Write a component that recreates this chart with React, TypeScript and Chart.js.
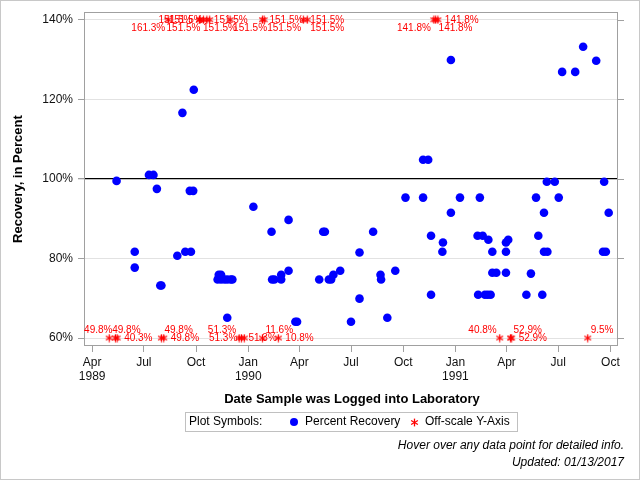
import React, { useEffect, useRef } from "react";
import { Chart, registerables } from "chart.js";

Chart.register(...registerables);

// Percent recovery of each logged sample (date logged, recovery %)
const recoveryDates = [
  "1989-05-14", "1989-06-15", "1989-06-15", "1989-07-10", "1989-07-18", "1989-07-24",
  "1989-07-30", "1989-08-01", "1989-08-29", "1989-09-07", "1989-09-12", "1989-09-22",
  "1989-09-20", "1989-09-26", "1989-09-27", "1989-11-10", "1989-11-14", "1989-11-08",
  "1989-11-14", "1989-11-20", "1989-11-25", "1989-12-01", "1989-12-04", "1989-11-25",
  "1990-01-10", "1990-02-11", "1990-02-12", "1990-02-16", "1990-02-28", "1990-02-28",
  "1990-03-13", "1990-03-13", "1990-03-25", "1990-03-28", "1990-05-06", "1990-05-13",
  "1990-05-16", "1990-05-23", "1990-05-27", "1990-05-31", "1990-06-12", "1990-07-01",
  "1990-07-16", "1990-07-16", "1990-08-09", "1990-08-22", "1990-08-23", "1990-09-03",
  "1990-09-17", "1990-10-05", "1990-11-05", "1990-11-05", "1990-11-14", "1990-11-19",
  "1990-11-19", "1990-12-10", "1990-12-09", "1990-12-24", "1990-12-24", "1991-01-09",
  "1991-02-09", "1991-02-18", "1991-02-13", "1991-02-28", "1991-03-07", "1991-02-10",
  "1991-02-22", "1991-02-27", "1991-03-04", "1991-03-07", "1991-03-14", "1991-03-31",
  "1991-03-31", "1991-04-04", "1991-03-31", "1991-05-06", "1991-05-14", "1991-05-23",
  "1991-05-27", "1991-06-03", "1991-06-06", "1991-06-06", "1991-06-12", "1991-06-11",
  "1991-06-25", "1991-07-02", "1991-07-08", "1991-07-31", "1991-08-14", "1991-09-06",
  "1991-09-20", "1991-09-18", "1991-09-23", "1991-09-28",
];
const recoveryValues = [
  99.5, 81.7, 77.7, 101.0, 101.0, 97.5,
  73.2, 73.2, 80.7, 116.6, 81.7, 81.7,
  97.0, 97.0, 122.4, 75.9, 75.9, 74.7,
  74.7, 74.7, 74.7, 74.7, 74.7, 65.1,
  93.0, 86.7, 74.7, 74.7, 75.9, 74.7,
  89.7, 76.9, 64.1, 64.1, 74.7, 86.7,
  86.7, 74.7, 74.7, 75.9, 76.9, 64.1,
  81.5, 69.9, 86.7, 75.9, 74.7, 65.1,
  76.9, 95.3, 95.3, 104.8, 104.8, 85.7,
  70.9, 84.0, 81.7, 129.9, 91.5, 95.3,
  85.7, 85.7, 95.3, 84.7, 81.7, 70.9,
  70.9, 70.9, 70.9, 76.4, 76.4, 76.4,
  84.0, 84.7, 81.7, 70.9, 76.2, 95.3,
  85.7, 70.9, 91.5, 81.7, 81.7, 99.3,
  99.3, 95.3, 126.9, 126.9, 133.2, 129.7,
  99.3, 81.7, 81.7, 91.5,
];

// Samples whose recovery falls outside the 60%..140% window (in record order)
const offscaleDates = [
  "1989-05-15", "1989-05-01", "1989-05-12",
  "1989-08-05", "1989-08-01",
  "1990-02-23", "1990-01-26", "1989-12-20", "1989-12-16", "1989-12-25",
  "1991-04-10", "1991-04-08", "1991-03-20",
  "1991-08-22",
  "1989-10-20", "1990-04-08", "1990-01-26", "1990-01-29", "1990-04-15",
  "1989-10-08", "1989-10-14", "1989-10-07", "1989-08-13",
  "1989-11-30", "1989-10-25",
  "1990-12-01", "1990-11-27", "1990-11-24",
];
const offscaleValues = [
  40.3, 49.8, 49.8,
  49.8, 49.8,
  10.8, 11.6, 51.3, 51.3, 51.3,
  52.9, 52.9, 40.8,
  9.5,
  151.5, 151.5, 151.5, 151.5, 151.5,
  151.5, 151.5, 151.5, 161.3,
  151.5, 151.5,
  141.8, 141.8, 141.8,
];

const yTickValues = [60, 80, 100, 120, 140];
const xTickDates = [
  "1989-04-01", "1989-07-01", "1989-10-01", "1990-01-01", "1990-04-01", "1990-07-01",
  "1990-10-01", "1991-01-01", "1991-04-01", "1991-07-01", "1991-10-01",
];
const xTickLabels: (string | string[])[] = [
  ["Apr", "1989"], "Jul", "Oct", ["Jan", "1990"], "Apr", "Jul",
  "Oct", ["Jan", "1991"], "Apr", "Jul", "Oct",
];

const SCALE_LOW = 60;
const SCALE_HIGH = 140;
const REFERENCE = 100;

const FONT = '"Liberation Sans", Arial, Helvetica, sans-serif';
const BASE_DAY = Date.UTC(1989, 3, 1) / 86400000;

function dayOf(iso: string): number {
  const [y, m, d] = iso.split("-").map(Number);
  return Date.UTC(y, m - 1, d) / 86400000 - BASE_DAY;
}

function clampToScale(v: number): number {
  return Math.min(SCALE_HIGH, Math.max(SCALE_LOW, v));
}

function makeAsterisk(size: number, color: string): HTMLCanvasElement {
  const c = document.createElement("canvas");
  c.width = size;
  c.height = size;
  const g = c.getContext("2d")!;
  g.strokeStyle = color;
  g.lineWidth = 1.3;
  const cx = size / 2;
  const cy = size / 2;
  const r = size / 2 - 0.6;
  for (let k = 0; k < 3; k++) {
    const a = Math.PI / 2 + (k * Math.PI) / 3;
    g.beginPath();
    g.moveTo(cx + r * Math.cos(a), cy + r * Math.sin(a));
    g.lineTo(cx - r * Math.cos(a), cy - r * Math.sin(a));
    g.stroke();
  }
  return c;
}

type Box = { x0: number; x1: number; y0: number; y1: number };

function overlapArea(a: Box, b: Box): number {
  const w = Math.min(a.x1, b.x1) - Math.max(a.x0, b.x0);
  const h = Math.min(a.y1, b.y1) - Math.max(a.y0, b.y0);
  return w > 0 && h > 0 ? w * h : 0;
}

// Value labels for the off-scale markers: each label tries the spots around
// its marker in turn (right, diagonal toward the plot, opposite diagonal, left)
// and takes the first one that is free of earlier labels and inside the plot;
// when none is free it takes the least crowded one.
const offscaleLabelPlugin = {
  id: "offscaleLabels",
  afterDatasetsDraw(chart: any) {
    const meta = chart.getDatasetMeta(1);
    const ctx = chart.ctx as CanvasRenderingContext2D;
    const area = chart.chartArea;
    ctx.save();
    ctx.font = `10px ${FONT}`;
    ctx.fillStyle = "#ff0000";
    ctx.textBaseline = "middle";
    ctx.textAlign = "left";
    const pts = meta.data as any[];
    const placed: Box[] = [];
    pts.forEach((p, i) => {
      const text = offscaleValues[i].toFixed(1) + "%";
      const w = ctx.measureText(text).width;
      const dv = offscaleValues[i] > SCALE_HIGH ? 8 : -8;
      const cands = [
        [p.x + 7, p.y],
        [p.x + 3, p.y + dv],
        [p.x - 3 - w, p.y + dv],
        [p.x - 7 - w, p.y],
      ];
      let best = cands[0];
      let bestCost = Infinity;
      for (const c of cands) {
        const b: Box = { x0: c[0], x1: c[0] + w, y0: c[1] - 3.5, y1: c[1] + 3.5 };
        let cost = 0;
        for (const q of placed) cost += overlapArea(b, q);
        if (b.x0 < area.left - 1 || b.x1 > area.right - 1) cost += 1000;
        if (cost < bestCost - 0.01) {
          bestCost = cost;
          best = c;
        }
        if (cost === 0) break;
      }
      placed.push({ x0: best[0], x1: best[0] + w, y0: best[1] - 3.5, y1: best[1] + 3.5 });
      ctx.fillText(text, best[0], best[1]);
    });
    ctx.restore();
  },
};

// Plot frame, mirrored right-hand ticks, titles, legend panel and footnotes
const decorationPlugin = {
  id: "decorations",
  beforeDatasetsDraw(chart: any) {
    const ctx = chart.ctx as CanvasRenderingContext2D;
    const { left, right, top, bottom } = chart.chartArea;
    const yScale = chart.scales.y;
    ctx.save();
    ctx.strokeStyle = "#a0a0a0";
    ctx.lineWidth = 1;
    ctx.strokeRect(Math.round(left) + 0.5, Math.round(top) + 0.5, Math.round(right - left) - 1, Math.round(bottom - top) - 1);
    for (const v of yTickValues) {
      const y = Math.round(yScale.getPixelForValue(v)) + 0.5;
      ctx.beginPath();
      ctx.moveTo(right, y);
      ctx.lineTo(right + 6, y);
      ctx.stroke();
    }
    ctx.restore();
  },
  afterDraw(chart: any) {
    const ctx = chart.ctx as CanvasRenderingContext2D;
    const { top, bottom } = chart.chartArea;
    ctx.save();
    // outer border
    ctx.strokeStyle = "#c8c8c8";
    ctx.lineWidth = 1;
    ctx.strokeRect(0.5, 0.5, chart.width - 1, chart.height - 1);

    ctx.fillStyle = "#000";
    ctx.textBaseline = "middle";
    // y axis title
    ctx.font = `bold 13px ${FONT}`;
    ctx.save();
    ctx.translate(18, (top + bottom) / 2);
    ctx.rotate(-Math.PI / 2);
    ctx.textAlign = "center";
    ctx.fillText("Recovery, in Percent", 0, 0);
    ctx.restore();
    // x axis title
    ctx.textAlign = "center";
    ctx.fillText("Date Sample was Logged into Laboratory", 352, 399);

    // legend panel
    ctx.strokeStyle = "#c0c0c0";
    ctx.strokeRect(185.5, 412.5, 332, 19);
    ctx.font = `12px ${FONT}`;
    ctx.textAlign = "left";
    ctx.fillStyle = "#000";
    ctx.fillText("Plot Symbols:", 189, 422);
    ctx.fillStyle = "#0000ff";
    ctx.beginPath();
    ctx.arc(294, 422, 4, 0, Math.PI * 2);
    ctx.fill();
    ctx.fillStyle = "#000";
    ctx.fillText("Percent Recovery", 305, 422);
    ctx.drawImage(makeAsterisk(9, "#ff0000"), 410, 418);
    ctx.fillText("Off-scale Y-Axis", 425, 422);

    // footnotes
    ctx.font = `italic 12px ${FONT}`;
    ctx.textAlign = "right";
    ctx.fillText("Hover over any data point for detailed info.", 624, 446);
    ctx.fillText("Updated: 01/13/2017", 624, 463);
    ctx.restore();
  },
};

export default function App() {
  const canvasRef = useRef<HTMLCanvasElement | null>(null);

  useEffect(() => {
    const canvas = canvasRef.current;
    if (!canvas) return;
    const asterisk = makeAsterisk(9, "#ff0000");
    const xTickValues = xTickDates.map(dayOf);

    const chart = new Chart(canvas, {
      type: "scatter",
      data: {
        datasets: [
          {
            label: "Percent Recovery",
            data: recoveryDates.map((d, i) => ({ x: dayOf(d), y: recoveryValues[i] })),
            pointStyle: "circle",
            pointRadius: 4.3,
            backgroundColor: "#0000ff",
            borderColor: "#0000ff",
            borderWidth: 0,
          },
          {
            label: "Off-scale Y-Axis",
            data: offscaleDates.map((d, i) => ({ x: dayOf(d), y: clampToScale(offscaleValues[i]) })),
            pointStyle: asterisk as any,
            pointRadius: 4,
            backgroundColor: "#ff0000",
            borderColor: "#ff0000",
          },
        ],
      },
      options: {
        responsive: false,
        animation: false,
        devicePixelRatio: 1,
        events: [],
        layout: { padding: { top: 12, right: 22, left: 0, bottom: 0 } },
        plugins: { legend: { display: false }, tooltip: { enabled: false } },
        scales: {
          x: {
            type: "linear",
            min: -14.4,
            max: 926.4,
            afterBuildTicks: (s: any) => {
              s.ticks = xTickValues.map((v) => ({ value: v }));
            },
            afterFit: (s: any) => {
              s.height = 134;
            },
            grid: { drawOnChartArea: false, drawTicks: true, tickLength: 6, tickColor: "#a0a0a0" },
            border: { display: false },
            ticks: {
              autoSkip: false,
              maxRotation: 0,
              padding: 3,
              color: "#111",
              font: { family: FONT, size: 12 },
              callback: (_v: any, idx: number) => xTickLabels[idx],
            },
          },
          y: {
            min: 58.0,
            max: 141.9,
            afterBuildTicks: (s: any) => {
              s.ticks = yTickValues.map((v) => ({ value: v }));
            },
            afterFit: (s: any) => {
              s.width = 84;
            },
            grid: {
              color: (c: any) => (c.tick && c.tick.value === REFERENCE ? "#000000" : "#e2e2e2"),
              lineWidth: (c: any) => (c.tick && c.tick.value === REFERENCE ? 1.3 : 1),
              tickColor: "#a0a0a0",
              tickLength: 6,
            },
            border: { display: false },
            ticks: {
              padding: 5,
              color: "#111",
              font: { family: FONT, size: 12 },
              callback: (v: any) => `${v}%`,
            },
          },
        },
      },
      plugins: [decorationPlugin, offscaleLabelPlugin],
    });
    return () => chart.destroy();
  }, []);

  return (
    <div style={{ position: "fixed", left: 0, top: 0, width: 640, height: 480, background: "#fff" }}>
      <canvas ref={canvasRef} width={640} height={480} style={{ display: "block" }} />
    </div>
  );
}
